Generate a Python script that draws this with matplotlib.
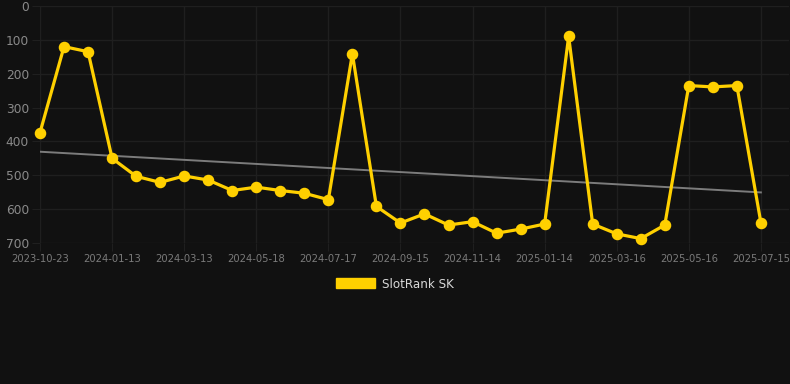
import numpy as np
import matplotlib
matplotlib.use("Agg")
import matplotlib.pyplot as plt
from matplotlib.patches import Patch

# rank values (lower is better), one per snapshot
ranks = [374, 120, 135, 450, 503, 521, 502, 514, 545, 535,
         545, 553, 572, 141, 592, 641, 614, 647, 637, 671,
         659, 644, 90, 644, 673, 687, 647, 235, 239, 235,
         640]
tick_labels = ["2023-10-23", "2024-01-13", "2024-03-13", "2024-05-18",
               "2024-07-17", "2024-09-15", "2024-11-14", "2025-01-14",
               "2025-03-16", "2025-05-16", "2025-07-15"]
y_ticks = [0, 100, 200, 300, 400, 500, 600, 700]

bg = "#111111"
yellow = "#FFD000"
gridc = "#1f1f1f"

x = np.arange(len(ranks))
tick_pos = x[::3]

fig = plt.figure(figsize=(7.9, 3.84), dpi=100, facecolor=bg)
ax = fig.add_axes([40/790, 1 - 243/384, 749/790, 237/384], facecolor=bg)

# trend line (linear regression)
k, b = np.polyfit(x, ranks, 1)
ax.plot(x, k*x + b, color="#7c7c7c", lw=1.4, zorder=2)

ax.plot(x, ranks, color=yellow, lw=2.3, marker="o", ms=7.3,
        solid_joinstyle="miter", zorder=3, clip_on=False)

ax.set_xlim(0, 31.17)
ax.set_ylim(700, 0)
ax.set_yticks(y_ticks)
ax.set_xticks(tick_pos)
ax.set_xticklabels(tick_labels)

ax.grid(True, color=gridc, lw=1)
ax.set_axisbelow(True)
for s in ax.spines.values():
    s.set_visible(False)
ax.tick_params(axis="y", colors=gridc, labelcolor="#8a8a8a",
               labelsize=8.8, length=6, pad=2)
ax.tick_params(axis="x", colors=gridc, labelcolor="#7a7a7a",
               labelsize=7.2, length=6, pad=2)

fig.legend(handles=[Patch(facecolor=yellow, edgecolor=yellow)],
           labels=["SlotRank SK"], loc="center", bbox_to_anchor=(0.5, 1 - 284/384),
           frameon=False, labelcolor="#d8d8d8", fontsize=8.6,
           handlelength=3.3, handleheight=0.9, handletextpad=0.6)

fig.savefig("out.png", dpi=100, facecolor=bg)
